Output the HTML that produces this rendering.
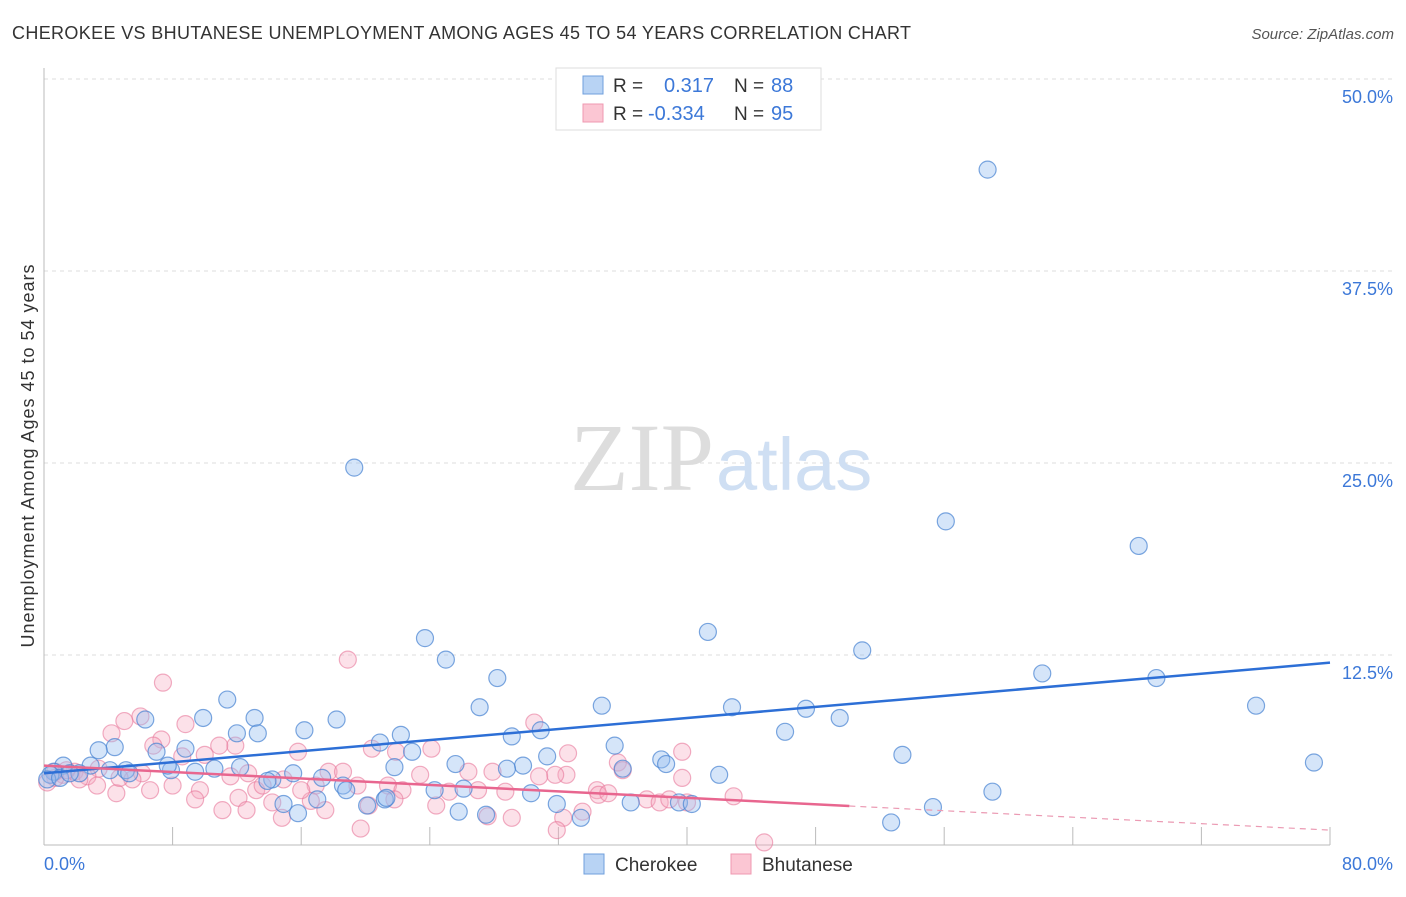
<!DOCTYPE html>
<html><head><meta charset="utf-8"><style>
body{margin:0;background:#fff;font-family:"Liberation Sans",sans-serif;}
svg text{font-family:"Liberation Sans",sans-serif;}
</style></head><body>
<svg id="chart" width="1406" height="892">
<text x="12" y="39" font-size="18" fill="#333" textLength="899">CHEROKEE VS BHUTANESE UNEMPLOYMENT AMONG AGES 45 TO 54 YEARS CORRELATION CHART</text>
<text x="1394" y="39" font-size="15" fill="#555" font-style="italic" text-anchor="end">Source: ZipAtlas.com</text>
<g id="grid"></g>
<text x="714" y="490" font-size="96" fill="#ddd" text-anchor="end" style="font-family:'Liberation Serif',serif">ZIP</text>
<text x="716" y="490" font-size="74" fill="#cfdff3">atlas</text>
<g id="marks"></g>
<text transform="translate(34,456) rotate(-90)" font-size="18" fill="#333" text-anchor="middle" textLength="383">Unemployment Among Ages 45 to 54 years</text>
<g>
<rect x="556" y="68" width="265" height="62" fill="#fff" stroke="#ddd"/>
<rect x="583" y="76" width="20" height="18" fill="#b8d3f4" stroke="#6f9fdc"/>
<rect x="583" y="104" width="20" height="18" fill="#fbc6d3" stroke="#ef98b0"/>
<text x="613" y="92" font-size="19" fill="#333">R = </text><text x="664" y="92" font-size="20" fill="#3c78d8">0.317</text>
<text x="734" y="92" font-size="19" fill="#333">N = </text><text x="771" y="92" font-size="20" fill="#3c78d8">88</text>
<text x="613" y="120" font-size="19" fill="#333">R = </text><text x="648" y="120" font-size="20" fill="#3c78d8">-0.334</text>
<text x="734" y="120" font-size="19" fill="#333">N = </text><text x="771" y="120" font-size="20" fill="#3c78d8">95</text>
</g>
<g>
<rect x="584" y="854" width="20" height="20" fill="#b8d3f4" stroke="#6f9fdc"/>
<text x="615" y="871" font-size="19" fill="#333">Cherokee</text>
<rect x="731" y="854" width="20" height="20" fill="#fbc6d3" stroke="#ef98b0"/>
<text x="762" y="871" font-size="19" fill="#333">Bhutanese</text>
</g>
</svg>
<script>
const yTicks=[12.5,25,37.5,50];
const yTickLabels=["12.5%","25.0%","37.5%","50.0%"];
const xTicks=[0,8,16,24,32,40,48,56,64,72,80];
const blueX=[58.7,19.3,56.1,68.1,41.3,23.7,25.0,50.9,62.1,69.2,28.2,75.4,11.4,27.1,34.7,42.8,47.4,9.9,13.1,49.5,18.2,16.2,12.0,13.3,46.1,6.3,29.1,22.2,20.9,35.5,4.4,3.4,8.8,7.0,22.9,31.3,53.4,38.4,30.9,25.6,29.8,21.8,28.8,15.5,12.2,38.7,36.0,42.0,5.1,2.9,1.2,0.6,0.4,2.2,5.3,7.9,9.4,10.6,14.2,17.3,18.6,13.9,79.0,24.3,30.3,59.0,21.2,26.1,17.0,36.5,39.5,40.3,31.9,20.1,55.3,25.8,27.5,15.8,33.4,52.7,14.9,18.8,21.3,0.2,1.0,1.6,4.1,7.7];
const blueY=[44.1,24.7,21.2,19.6,14.0,13.6,12.2,12.8,11.3,11.0,11.0,9.2,9.6,9.1,9.2,9.1,9.0,8.4,8.4,8.4,8.3,7.6,7.4,7.4,7.5,8.3,7.2,7.3,6.8,6.6,6.5,6.3,6.4,6.2,6.2,5.9,6.0,5.7,7.6,5.4,5.3,5.2,5.1,4.8,5.2,5.4,5.1,4.7,5.0,5.3,5.3,4.9,4.7,4.8,4.8,5.0,4.9,5.1,4.4,4.5,4.0,4.3,5.5,3.7,3.5,3.6,3.1,3.8,3.1,2.9,2.9,2.8,2.8,2.7,2.6,2.3,2.1,2.2,1.9,1.6,2.8,3.7,3.2,4.4,4.5,4.8,5.0,5.3];
const pinkX=[18.9,7.4,6.0,5.0,8.8,4.2,11.9,10.9,15.8,7.3,6.8,20.4,24.1,30.5,32.6,35.7,32.5,31.8,39.7,39.7,17.7,18.6,21.9,23.4,26.4,27.9,8.6,10.0,3.4,1.9,1.2,0.7,0.2,2.7,6.1,11.6,12.7,14.9,19.5,21.4,22.3,27.0,28.7,30.8,34.4,34.5,35.1,36.0,37.5,38.3,38.9,40.0,42.9,6.6,4.5,3.3,8.0,9.7,13.2,12.1,14.2,16.6,17.5,20.2,21.8,24.4,27.6,29.1,32.3,33.5,31.9,19.7,14.8,12.6,11.1,9.4,44.8,5.5,16.9,13.6,16.0,25.2,2.2,4.7,0.7,1.4];
const pinkY=[12.2,10.7,8.5,8.2,8.0,7.4,6.6,6.6,6.2,7.0,6.6,6.4,6.4,8.1,6.1,5.5,4.7,4.7,6.2,4.5,4.9,4.9,6.2,4.7,4.9,4.9,5.9,6.0,5.1,4.9,4.7,4.5,4.2,4.6,4.8,4.6,4.8,4.4,4.0,4.0,3.7,3.7,3.6,4.6,3.7,3.4,3.5,5.0,3.1,2.9,3.1,2.9,3.3,3.7,3.5,4.0,4.0,3.7,3.7,3.2,2.9,3.0,2.4,2.7,3.1,2.7,2.0,1.9,1.9,2.3,1.1,1.2,1.9,2.4,2.4,3.1,0.3,4.4,4.0,4.0,3.7,3.6,4.4,4.5,4.9,5.0];
const blueTrend=[4.8,12.0];
const pinkTrend=[5.3,1.1];
const pinkSolidEnd=50.1;

const NS="http://www.w3.org/2000/svg";
const X0=44,X1=1330,Y0=847,Y1=79;
const sx=v=>X0+(X1-X0)*v/80;
const sy=v=>Y0-(Y0-Y1)*v/50;
function mk(tag,attrs,parent){const e=document.createElementNS(NS,tag);for(const k in attrs)e.setAttribute(k,attrs[k]);parent.appendChild(e);return e;}
const grid=document.getElementById('grid');
const marks=document.getElementById('marks');
yTicks.forEach((t,i)=>{
 const l=mk('line',{x1:X0,x2:1392,y1:sy(t),y2:sy(t),stroke:'#ddd','stroke-dasharray':'4,4'},grid);
 
 
 const tx=mk('text',{x:1393,y:sy(t)+24,'font-size':18,fill:'#3c78d8','text-anchor':'end'},grid);
 tx.textContent=yTickLabels[i];
 
 
});
const ax=mk('line',{x1:X0,x2:X1,y1:845,y2:845,stroke:'#bbb'},grid);


const ay=mk('line',{x1:X0,x2:X0,y1:68,y2:845,stroke:'#bbb'},grid);


xTicks.forEach(t=>{
 const l=mk('line',{x1:sx(t),x2:sx(t),y1:827,y2:845,stroke:'#bbb'},grid);
 
 
});
const xl0=mk('text',{x:44,y:870,'font-size':18,fill:'#3c78d8'},grid);xl0.textContent=xTicks[0].toFixed(1)+'%';


const xl1=mk('text',{x:1393,y:870,'font-size':18,fill:'#3c78d8','text-anchor':'end'},grid);xl1.textContent=xTicks[xTicks.length-1].toFixed(1)+'%';


pinkX.forEach((x,i)=>{
 const c=mk('circle',{cx:sx(x),cy:sy(pinkY[i]),r:8.5,fill:'rgba(246,170,192,0.35)',stroke:'rgba(232,120,155,0.6)','stroke-width':1.2},marks);
 
 
});
blueX.forEach((x,i)=>{
 const c=mk('circle',{cx:sx(x),cy:sy(blueY[i]),r:8.5,fill:'rgba(150,190,240,0.4)',stroke:'rgba(70,130,210,0.7)','stroke-width':1.2},marks);
 
 
});
const bt=mk('line',{x1:sx(0),y1:sy(blueTrend[0]),x2:sx(80),y2:sy(blueTrend[1]),stroke:'#2d6fd6','stroke-width':2.5},marks);


const pm=v=>pinkTrend[0]+(pinkTrend[1]-pinkTrend[0])*v/80;
const pt=mk('line',{x1:sx(0),y1:sy(pinkTrend[0]),x2:sx(pinkSolidEnd),y2:sy(pm(pinkSolidEnd)),stroke:'#e8668f','stroke-width':2.5},marks);


const pd=mk('line',{x1:sx(pinkSolidEnd),y1:sy(pm(pinkSolidEnd)),x2:sx(80),y2:sy(pinkTrend[1]),stroke:'#eb9ab3','stroke-width':1.2,'stroke-dasharray':'6,5'},marks);


</script>
</body></html>
